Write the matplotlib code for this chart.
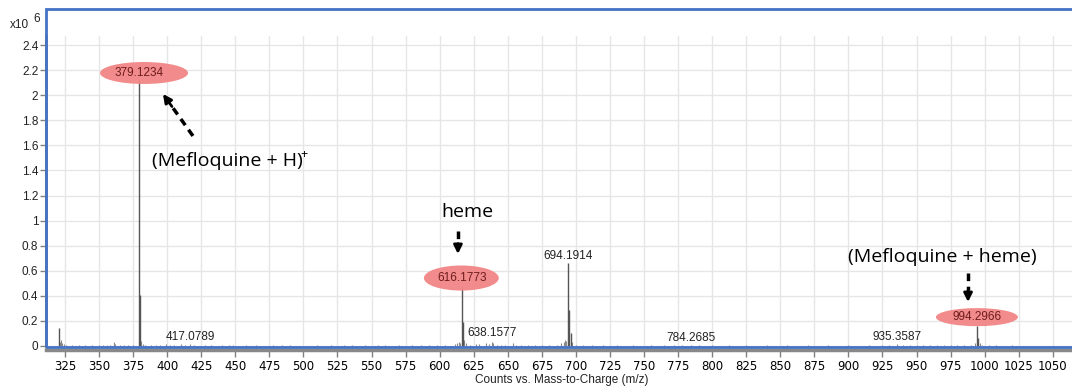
import matplotlib.pyplot as plt
from matplotlib.patches import Ellipse, Rectangle
from matplotlib.ticker import FuncFormatter

# main peaks (m/z, counts x10^6)
main_mz = [320.5, 379.12, 380.13, 616.18, 617.18, 694.19, 695.19, 696.20, 994.30, 995.30]
main_int = [0.145, 2.12, 0.41, 0.48, 0.19, 0.66, 0.29, 0.10, 0.16, 0.06]

# small background peaks
minor_mz = [321.5, 322.1, 323.0, 324.5, 326.0, 330.0, 335.0, 340.0, 345.0, 350.0, 353.0, 356.0,
            358.0, 361.1, 362.0, 365.0, 368.0, 371.0, 375.0, 381.1, 382.0, 384.0, 388.0, 392.0,
            395.0, 399.0, 402.0, 405.0, 410.0, 413.0, 417.08, 420.0, 428.0, 432.0, 440.0, 445.0,
            448.0, 458.0, 465.0, 478.0, 484.0, 490.0, 510.0, 520.0, 530.0, 536.0, 545.0, 555.0,
            560.0, 570.0, 580.0, 586.0, 592.0, 598.0, 604.0, 611.0, 613.0, 614.2, 615.1, 618.2,
            619.0, 622.0, 627.0, 629.0, 634.0, 636.0, 638.16, 639.0, 642.0, 645.0, 648.0, 654.0,
            656.0, 660.0, 665.0, 670.0, 675.0, 680.0, 686.0, 689.0, 691.0, 692.0, 693.0, 697.2,
            700.0, 705.0, 712.0, 720.0, 730.0, 742.0, 755.0, 765.0, 772.0, 778.0, 784.27, 790.0,
            800.0, 812.0, 825.0, 840.0, 855.0, 870.0, 885.0, 900.0, 915.0, 925.0, 930.0, 935.36,
            940.0, 945.0, 950.0, 955.0, 960.0, 965.0, 970.0, 975.0, 980.0, 985.0, 990.0, 993.0,
            996.3, 998.0, 1003.0, 1008.0, 1020.0, 1035.0]
minor_int = [0.03, 0.045, 0.02, 0.015, 0.01, 0.005, 0.006, 0.005, 0.006, 0.005, 0.008, 0.006,
             0.01, 0.03, 0.012, 0.008, 0.006, 0.005, 0.006, 0.04, 0.015, 0.01, 0.008, 0.009,
             0.01, 0.012, 0.008, 0.01, 0.012, 0.009, 0.014, 0.008, 0.006, 0.01, 0.005, 0.007,
             0.006, 0.005, 0.006, 0.005, 0.005, 0.006, 0.005, 0.005, 0.006, 0.005, 0.005, 0.004,
             0.006, 0.005, 0.005, 0.008, 0.007, 0.005, 0.006, 0.012, 0.02, 0.03, 0.02, 0.05,
             0.02, 0.01, 0.018, 0.012, 0.02, 0.015, 0.03, 0.02, 0.01, 0.008, 0.006, 0.02,
             0.01, 0.006, 0.006, 0.008, 0.008, 0.006, 0.01, 0.02, 0.03, 0.05, 0.04, 0.03,
             0.01, 0.006, 0.005, 0.005, 0.004, 0.005, 0.004, 0.005, 0.004, 0.005, 0.008, 0.004,
             0.004, 0.004, 0.004, 0.004, 0.004, 0.004, 0.005, 0.004, 0.005, 0.006, 0.008, 0.012,
             0.01, 0.006, 0.007, 0.005, 0.006, 0.006, 0.005, 0.006, 0.007, 0.008, 0.01, 0.02,
             0.02, 0.008, 0.006, 0.005, 0.004, 0.003]

# peak labels: m/z, text, label height
label_mz = [417.08, 638.16, 694.19, 784.27, 935.36]
label_txt = ["417.0789", "638.1577", "694.1914", "784.2685", "935.3587"]
label_y = [0.074, 0.104, 0.718, 0.064, 0.072]

# highlighted peaks (red ellipse): m/z, text, label height, ellipse width (m/z), height
hl_mz = [379.12, 616.18, 994.30]
hl_txt = ["379.1234", "616.1773", "994.2966"]
hl_y = [2.177, 0.542, 0.23]
hl_cx = [383.0, 615.9, 994.3]
hl_w = [64.6, 55.0, 60.2]
hl_h = [0.175, 0.2, 0.144]

xticks = list(range(325, 1051, 25))
yticks = [0, 0.2, 0.4, 0.6, 0.8, 1.0, 1.2, 1.4, 1.6, 1.8, 2.0, 2.2, 2.4]

fig = plt.figure(figsize=(10.72, 3.9), dpi=100)
ax = fig.add_axes([46 / 1072, 43 / 390, 1026 / 1072, 311 / 390])
ax.set_xlim(311.05, 1064.1)
ax.set_ylim(-0.008, 2.472)

tickfont = "Liberation Sans"
ax.set_xticks(xticks)
ax.set_yticks(yticks)
ax.yaxis.set_major_formatter(FuncFormatter(lambda v, p: "%g" % round(v, 1)))
ax.tick_params(axis="x", length=5, width=1, color="#808080", pad=2, labelsize=8.5)
ax.tick_params(axis="y", length=4, width=1, color="#808080", pad=1.5, labelsize=8.5)
for lab in ax.get_xticklabels() + ax.get_yticklabels():
    lab.set_fontfamily(tickfont)
    lab.set_color("#222222")

ax.grid(True, color="#e6e6e6", lw=1, zorder=0)
ax.set_axisbelow(True)
for s in ["top", "right"]:
    ax.spines[s].set_visible(False)
ax.spines["left"].set_color("#888888")
ax.spines["left"].set_linewidth(2)
ax.spines["bottom"].set_color("#888888")
ax.spines["bottom"].set_linewidth(2.5)
ax.spines["bottom"].set_position(("outward", 2))

ax.vlines(minor_mz, 0, minor_int, color="#8a8a8a", lw=0.8, zorder=2)
ax.vlines(main_mz, 0, main_int, color="#555555", lw=1.0, zorder=3)

for x, t, y in zip(label_mz, label_txt, label_y):
    ax.text(x, y, t, ha="center", va="center", fontsize=8.5, family=tickfont,
            color="#222222", zorder=5)

for x, t, y, cx, w, h in zip(hl_mz, hl_txt, hl_y, hl_cx, hl_w, hl_h):
    ax.add_patch(Ellipse((cx, y), w, h, facecolor="#f28585", edgecolor="none",
                         alpha=0.95, zorder=4))
    ax.text(x, y, t, ha="center", va="center", fontsize=8.5, family=tickfont,
            color="#6e1c1c", zorder=5)

# annotations
afont = ["Open Sans", "DejaVu Sans"]
ax.text(388.9, 1.435, "(Mefloquine + H)", ha="left", va="baseline", fontsize=14,
        family=afont, color="black", zorder=6)
ax.text(498.0, 1.53, "+", ha="left", va="center", fontsize=9, family=afont,
        color="black", zorder=6)
ax.text(620.4, 1.029, "heme", ha="center", va="baseline", fontsize=14,
        family=afont, color="black", zorder=6)
ax.text(969.0, 0.67, "(Mefloquine + heme)", ha="center", va="baseline", fontsize=14,
        family=afont, color="black", zorder=6)

def dashed_arrow(x0, y0, x1, y1, frac):
    # dashed shaft then a solid head
    xm = x0 + (x1 - x0) * frac
    ym = y0 + (y1 - y0) * frac
    ax.plot([x0, xm], [y0, ym], color="black", lw=2.5, ls=(0, (2.2, 1.6)),
            solid_capstyle="butt", dash_capstyle="butt", zorder=6)
    ax.annotate("", xy=(x1, y1), xytext=(xm, ym),
                arrowprops=dict(arrowstyle="-|>,head_length=0.5,head_width=0.25",
                                color="black", lw=2, shrinkA=0, shrinkB=0), zorder=6)

dashed_arrow(418.9, 1.675, 396.9, 2.01, 0.7)
dashed_arrow(613.4, 0.917, 613.4, 0.734, 0.55)
dashed_arrow(987.8, 0.582, 987.8, 0.351, 0.6)

# outer blue frame
fig.patches.append(Rectangle((46 / 1072, 43 / 390), 1040 / 1072, 338 / 390,
                             transform=fig.transFigure, fill=False,
                             edgecolor="#4472c4", lw=2, zorder=10))

fig.text(10 / 1072, 1 - 25 / 390, "x10", ha="left", va="center", fontsize=8.5,
         family=tickfont, color="#222222")
fig.text(33 / 1072, 1 - 19 / 390, "6", ha="left", va="center", fontsize=8.5,
         family=tickfont, color="#222222")
fig.text(561.5 / 1072, 1 - 380 / 390, "Counts vs. Mass-to-Charge (m/z)", ha="center",
         va="center", fontsize=8.5, family=tickfont, color="#222222")

plt.savefig("out.png", dpi=100)
